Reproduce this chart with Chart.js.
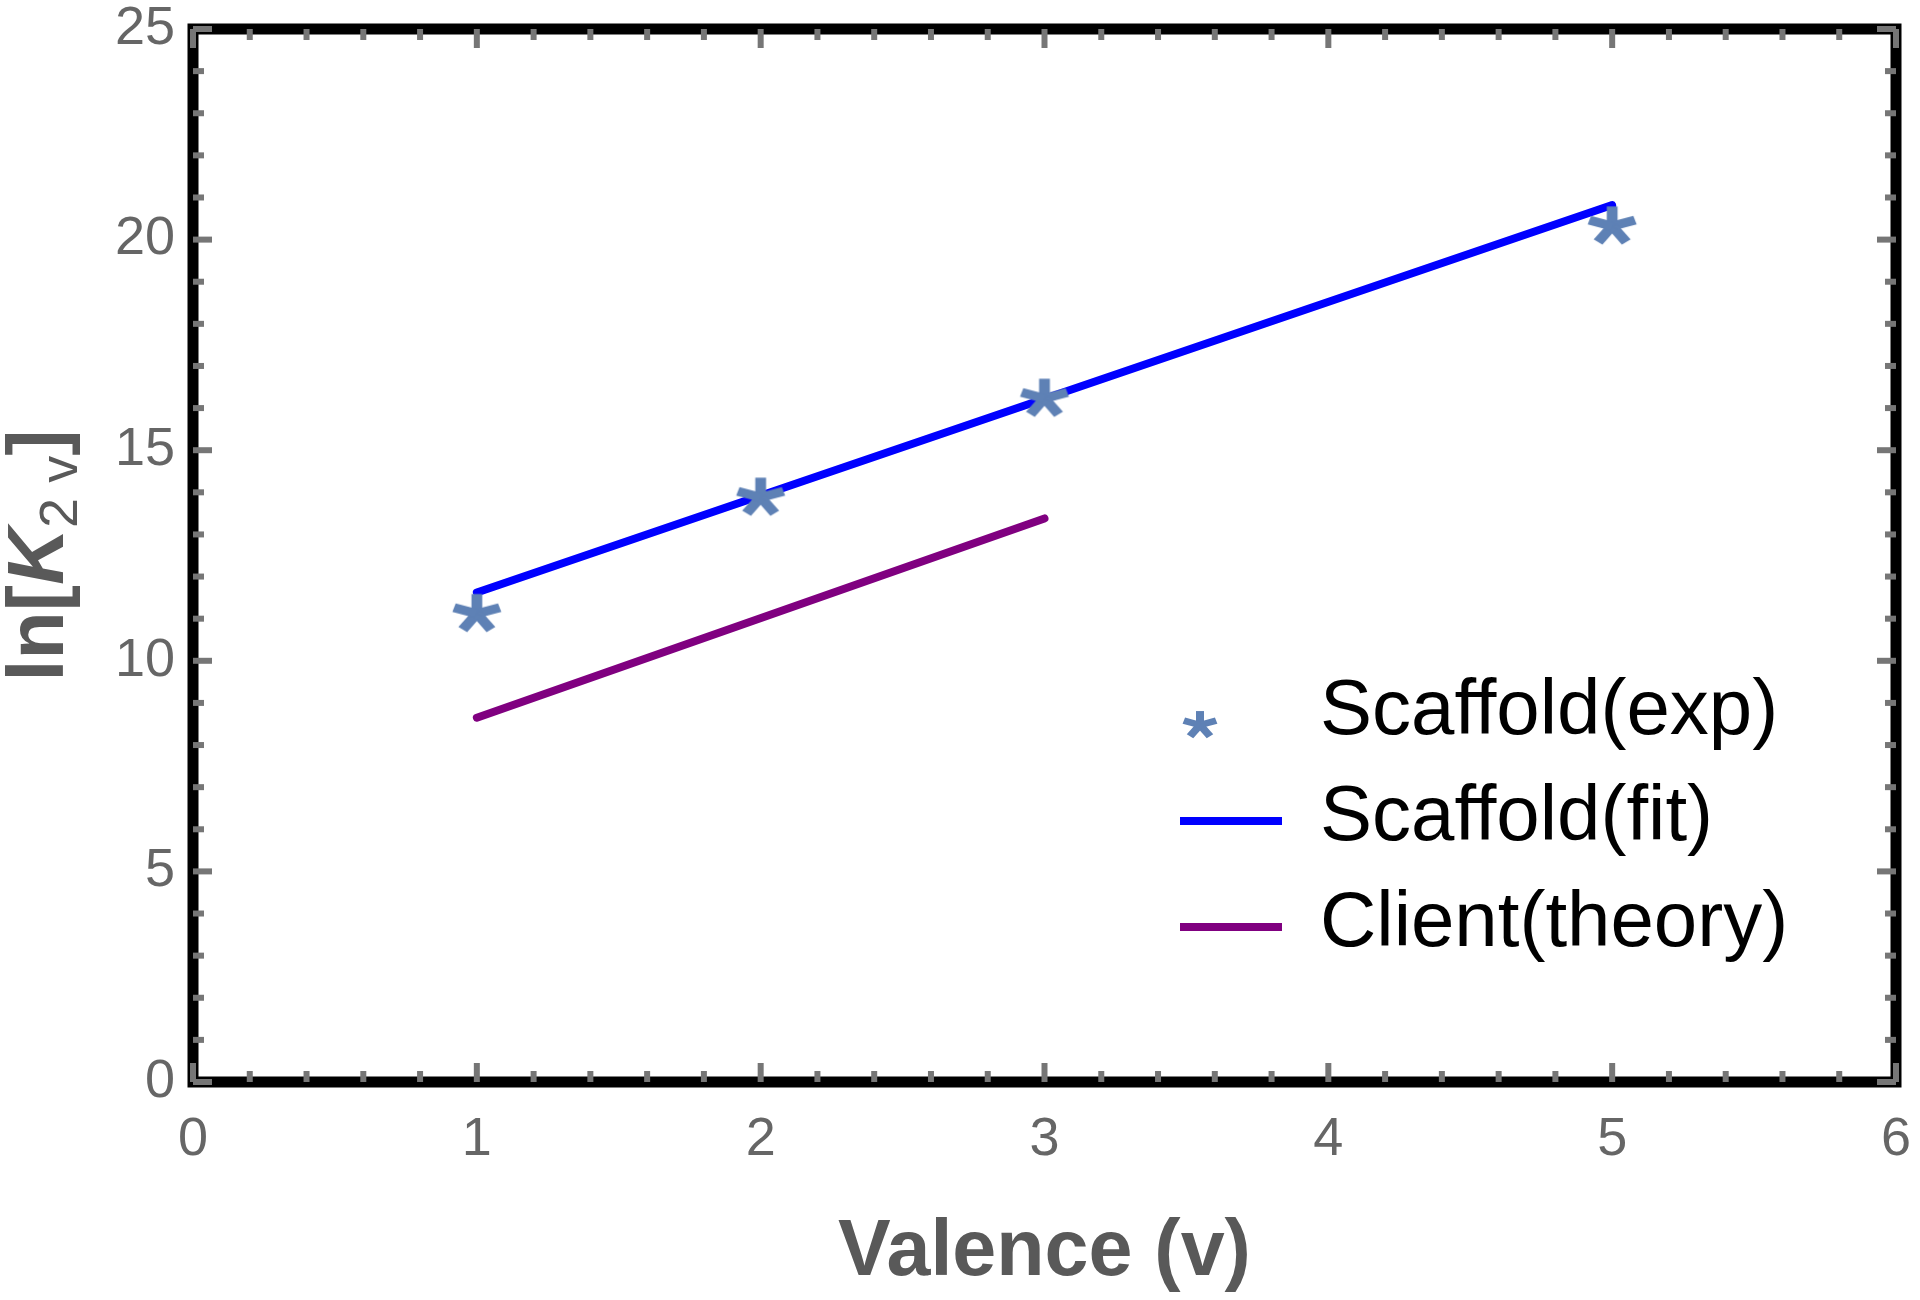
<!DOCTYPE html>
<html>
<head>
<meta charset="utf-8">
<script src="https://cdn.jsdelivr.net/npm/chart.js@4.4.1/dist/chart.umd.min.js"></script>
<style>
    html, body { margin: 0; padding: 0; background: #ffffff; }
    #wrap { width: 1920px; height: 1300px; }
</style>
</head>
<body>
<div id="wrap"><canvas id="myChart"></canvas></div>
<script>
// data
const valence = [1, 2, 3, 5];
const scaffoldExp = [11.12, 13.88, 16.23, 20.32];
const fitValence = [1, 5];
const scaffoldFit = [11.62, 20.82];
const theoryValence = [1, 3];
const clientTheory = [8.65, 13.38];
const xTicks = [0, 1, 2, 3, 4, 5, 6];
const yTicks = [0, 5, 10, 15, 20, 25];
const seriesLabels = ["Scaffold(exp)", "Scaffold(fit)", "Client(theory)"];
const xTitle = "Valence (v)";

const starColor = "#5e81b5";
const fitColor = "#0000ff";
const theoryColor = "#800080";
const tickGray = "#767676";
const labelGray = "#666666";
const titleGray = "#595959";
const fontFamily = "'Liberation Sans', Arial, sans-serif";

function toPoints(xs, ys){
    return xs.map((x, i) => ({x: x, y: ys[i]}));
}

// five armed asterisk, like the "*" marker of the original plot
function makeStar(size){
    const c = document.createElement('canvas');
    c.width = size;
    c.height = size;
    const ctx = c.getContext('2d');
    const r = size / 2 - 3;
    ctx.translate(size / 2, size / 2);
    ctx.scale(1, 0.82);
    ctx.strokeStyle = starColor;
    ctx.lineWidth = size * 0.2;
    for(let k = 0; k < 5; k++){
        const a = -Math.PI / 2 + k * 2 * Math.PI / 5;
        ctx.beginPath();
        ctx.moveTo(0, 0);
        ctx.lineTo(r * Math.cos(a), r * Math.sin(a));
        ctx.stroke();
    }
    return c;
}

const bigStar = makeStar(54);
const smallStar = makeStar(40);

// thick black frame with grey inward ticks on all four sides
const framePlugin = {
    id: 'frame',
    afterDraw(chart){
        const {ctx, chartArea: a, scales} = chart;
        ctx.save();
        ctx.strokeStyle = "#000000";
        ctx.lineWidth = 11;
        ctx.strokeRect(a.left, a.top, a.right - a.left, a.bottom - a.top);

        ctx.strokeStyle = tickGray;
        ctx.lineWidth = 6;
        const drawTick = (x1, y1, x2, y2) => {
            ctx.beginPath();
            ctx.moveTo(x1, y1);
            ctx.lineTo(x2, y2);
            ctx.stroke();
        };
        const sx = scales.x, sy = scales.y;
        for(let i = 0; i < xTicks.length; i++){
            const px = sx.getPixelForValue(xTicks[i]);
            drawTick(px, a.bottom, px, a.bottom - 19);
            drawTick(px, a.top, px, a.top + 19);
            if(i < xTicks.length - 1){
                for(let m = 1; m < 5; m++){
                    const v = xTicks[i] + (xTicks[i + 1] - xTicks[i]) * m / 5;
                    const mx = sx.getPixelForValue(v);
                    drawTick(mx, a.bottom, mx, a.bottom - 11);
                    drawTick(mx, a.top, mx, a.top + 11);
                }
            }
        }
        for(let i = 0; i < yTicks.length; i++){
            const py = sy.getPixelForValue(yTicks[i]);
            drawTick(a.left, py, a.left + 19, py);
            drawTick(a.right, py, a.right - 19, py);
            if(i < yTicks.length - 1){
                for(let m = 1; m < 5; m++){
                    const v = yTicks[i] + (yTicks[i + 1] - yTicks[i]) * m / 5;
                    const my = sy.getPixelForValue(v);
                    drawTick(a.left, my, a.left + 11, my);
                    drawTick(a.right, my, a.right - 11, my);
                }
            }
        }
        ctx.restore();
    }
};

// axis titles: "Valence (v)" below, ln[K_{2 v}] rotated on the left
const titlePlugin = {
    id: 'axisTitles',
    afterDraw(chart){
        const ctx = chart.ctx;
        const a = chart.chartArea;
        ctx.save();
        ctx.fillStyle = titleGray;
        ctx.textBaseline = 'alphabetic';
        ctx.textAlign = 'center';
        ctx.font = "bold 79px " + fontFamily;
        ctx.fillText(xTitle, (a.left + a.right) / 2, 1275);

        const parts = [
            {text: "ln[", font: "bold 79px " + fontFamily, dy: 0},
            {text: "K", font: "italic bold 79px " + fontFamily, dy: 0},
            {text: "2 v", font: "54px " + fontFamily, dy: 14},
            {text: "]", font: "bold 79px " + fontFamily, dy: 0}
        ];
        let total = 0;
        parts.forEach(p => {
            ctx.font = p.font;
            p.w = ctx.measureText(p.text).width;
            total += p.w;
        });
        ctx.translate(63, (a.top + a.bottom) / 2);
        ctx.rotate(-Math.PI / 2);
        ctx.textAlign = 'left';
        let x = -total / 2;
        parts.forEach(p => {
            ctx.font = p.font;
            ctx.fillText(p.text, x, p.dy);
            x += p.w;
        });
        ctx.restore();
    }
};

// legend inside the plot, bottom right
const legendPlugin = {
    id: 'insideLegend',
    afterDraw(chart){
        const ctx = chart.ctx;
        const rowY = [710, 816, 922];
        ctx.save();
        ctx.font = "78px " + fontFamily;
        ctx.fillStyle = "#000000";
        ctx.textBaseline = 'middle';
        ctx.textAlign = 'left';
        chart.data.datasets.forEach((ds, i) => {
            const y = rowY[i];
            if(ds.showLine === false){
                ctx.drawImage(smallStar, 1200 - smallStar.width / 2, y + 15 - smallStar.height / 2);
            }else{
                ctx.strokeStyle = ds.borderColor;
                ctx.lineWidth = 8;
                ctx.beginPath();
                ctx.moveTo(1180, y + 5);
                ctx.lineTo(1282, y + 5);
                ctx.stroke();
            }
            ctx.fillText(ds.label, 1320, y + 2);
        });
        ctx.restore();
    }
};

// keep the plot box where the reference has it, labels may overhang
function noOverhang(s){
    s.paddingTop = 0;
    s.paddingBottom = 0;
    s.paddingLeft = 0;
    s.paddingRight = 0;
}

const tickFont = {family: fontFamily, size: 54, lineHeight: 1};

const ctx = document.getElementById('myChart').getContext('2d');
const myChart = new Chart(ctx, {
    type: 'scatter',
    data: {
        datasets: [
            {
                label: seriesLabels[0],
                data: toPoints(valence, scaffoldExp),
                showLine: false,
                pointStyle: bigStar,
                pointRadius: 20
            },
            {
                label: seriesLabels[1],
                data: toPoints(fitValence, scaffoldFit),
                showLine: true,
                borderColor: fitColor,
                borderWidth: 8,
                borderCapStyle: 'round',
                pointRadius: 0
            },
            {
                label: seriesLabels[2],
                data: toPoints(theoryValence, clientTheory),
                showLine: true,
                borderColor: theoryColor,
                borderWidth: 8,
                borderCapStyle: 'round',
                pointRadius: 0
            }
        ]
    },
    options: {
        responsive: true,
        maintainAspectRatio: false,
        animation: false,
        layout: {
            padding: {top: 29, right: 24, left: 0, bottom: 0}
        },
        plugins: {
            legend: {display: false},
            tooltip: {enabled: false}
        },
        scales: {
            x: {
                type: 'linear',
                min: 0,
                max: 6,
                afterFit: s => { s.height = 218; noOverhang(s); },
                afterBuildTicks: s => { s.ticks = xTicks.map(v => ({value: v})); },
                grid: {display: false, drawTicks: false},
                border: {display: false},
                ticks: {font: tickFont, color: labelGray, padding: 31, maxRotation: 0}
            },
            y: {
                type: 'linear',
                min: 0,
                max: 25,
                afterFit: s => { s.width = 193; noOverhang(s); },
                afterBuildTicks: s => { s.ticks = yTicks.map(v => ({value: v})); },
                grid: {display: false, drawTicks: false},
                border: {display: false},
                ticks: {font: tickFont, color: labelGray, padding: 18}
            }
        }
    },
    plugins: [framePlugin, titlePlugin, legendPlugin]
});
</script>
</body>
</html>
